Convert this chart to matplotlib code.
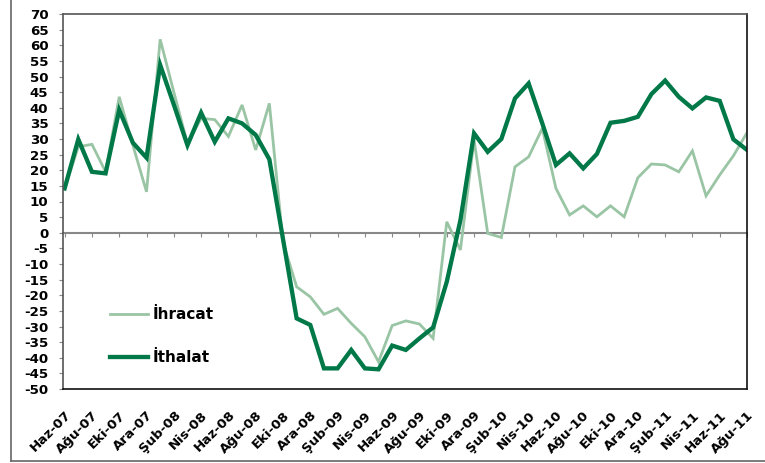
import matplotlib
matplotlib.use("Agg")
import matplotlib.pyplot as plt
from matplotlib.lines import Line2D
import numpy as np

plt.rcParams['font.family'] = ['DejaVu Sans']

months = ["Haz-07","Tem-07","Ağu-07","Eyl-07","Eki-07","Kas-07","Ara-07",
          "Oca-08","Şub-08","Mar-08","Nis-08","May-08","Haz-08","Tem-08","Ağu-08","Eyl-08","Eki-08","Kas-08","Ara-08",
          "Oca-09","Şub-09","Mar-09","Nis-09","May-09","Haz-09","Tem-09","Ağu-09","Eyl-09","Eki-09","Kas-09","Ara-09",
          "Oca-10","Şub-10","Mar-10","Nis-10","May-10","Haz-10","Tem-10","Ağu-10","Eyl-10","Eki-10","Kas-10","Ara-10",
          "Oca-11","Şub-11","Mar-11","Nis-11","May-11","Haz-11","Tem-11","Ağu-11"]

ihracat = [14.0, 27.5, 28.3, 19.5, 43.5, 28.0, 13.1, 61.9, 45.0, 28.5, 36.6, 36.2, 30.8, 40.9, 26.5, 41.4,
           -3.0, -17.3, -20.5, -26.1, -24.2, -29.0, -33.3, -41.3, -29.7, -28.2, -29.2, -33.8, 3.5, -5.5, 29.7,
           -0.2, -1.5, 21.1, 24.3, 33.4, 14.2, 5.7, 8.6, 5.1, 8.6, 5.1, 17.6, 22.0, 21.7, 19.5, 26.2, 11.8, 18.5, 24.6, 32.0]

ithalat = [14.2, 29.9, 19.5, 19.0, 39.3, 28.8, 24.0, 53.7, 41.0, 28.0, 38.4, 29.1, 36.6, 35.0, 31.3, 23.5,
           -2.0, -27.4, -29.5, -43.4, -43.4, -37.5, -43.4, -43.7, -36.1, -37.5, -33.8, -30.3, -15.7, 4.0, 31.8,
           25.9, 30.0, 43.0, 47.8, 35.0, 21.7, 25.4, 20.6, 25.2, 35.2, 35.8, 37.1, 44.4, 48.7, 43.5, 39.8, 43.3, 42.2, 29.9, 26.5]

yticks = list(range(-50, 75, 5))

W, H = 765, 463
fig = plt.figure(figsize=(W/100, H/100), dpi=100)
ax = fig.add_axes([63/W, (H-389)/H, (747-63)/W, (389-14)/H])

x = np.arange(len(months))
c_light = '#9ac5a5'
c_dark = '#007848'
ax.plot(x, ihracat, color=c_light, lw=2.0, label='İhracat', solid_joinstyle='miter')
ax.plot(x, ithalat, color=c_dark, lw=3.1, label='İthalat', solid_joinstyle='miter')

ax.set_xlim(-0.12, 50)
ax.set_ylim(-50, 70)
ax.set_yticks(yticks)
ax.set_yticklabels([str(v) for v in yticks], fontsize=9.6, fontweight='bold')
ax.tick_params(axis='y', direction='out', length=3, color='#888888', pad=7.5)

ax.set_xticks(x[::2])
ax.set_xticklabels(months[::2], rotation=45, ha='right', rotation_mode='anchor',
                   fontsize=9.6, fontweight='bold')
ax.tick_params(axis='x', length=0, pad=14)

for s in ['top', 'left']:
    ax.spines[s].set_color('#555555')
    ax.spines[s].set_linewidth(1.2)
for s in ['right', 'bottom']:
    ax.spines[s].set_color('#111111')
    ax.spines[s].set_linewidth(1.2)

# zero axis with tick marks
sec = ax.secondary_xaxis(50/120)
sec.set_xticks(x[::2])
sec.set_xticklabels([])
sec.tick_params(direction='out', length=3, color='#888888')
sec.spines['bottom'].set_color('#888888')
sec.spines['bottom'].set_linewidth(1.5)
sec.spines['top'].set_visible(False)

leg = ax.legend(loc='upper left', bbox_to_anchor=(110/W, 1-(307)/H), bbox_transform=fig.transFigure,
                frameon=False, fontsize=11, handlelength=2.5, handletextpad=0.3,
                labelspacing=1.85, borderpad=0, borderaxespad=0)
for t in leg.get_texts():
    t.set_fontweight('bold')

# outer chart frame
fig.add_artist(Line2D([10.7/W, 10.7/W], [(H-460.7)/H, 1.0], transform=fig.transFigure, color='#666666', lw=1.2))
fig.add_artist(Line2D([10.7/W, 1.0], [(H-460.7)/H, (H-460.7)/H], transform=fig.transFigure, color='#666666', lw=1.2))

fig.savefig('out.png', dpi=100)
